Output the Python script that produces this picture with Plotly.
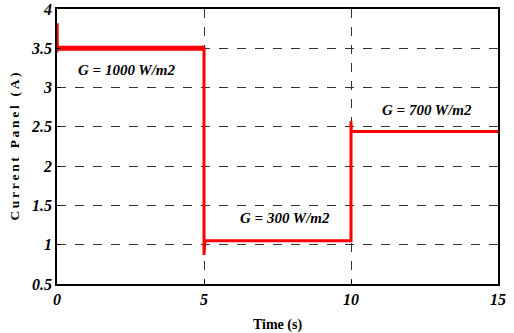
import plotly.graph_objects as go

time_s = [0, 0.005, 0.01, 0.03, 5.0, 5.0, 5.01, 5.03, 10.0, 10.0, 10.01, 10.03, 15.0]
current_a = [3.45, 3.82, 3.50, 3.50, 3.50, 0.87, 1.05, 1.05, 1.05, 2.57, 2.45, 2.44, 2.44]

x_ticks = [0, 5, 10, 15]
y_ticks = [0.5, 1, 1.5, 2, 2.5, 3, 3.5, 4]
y_tick_labels = ["0.5", "1", "1.5", "2", "2.5", "3", "3.5", "4"]

labels = ["G = 1000 W/m2", "G = 300 W/m2", "G = 700 W/m2"]
label_x = [2.38, 7.76, 12.59]
label_y = [3.22, 1.34, 2.72]

fig = go.Figure()
fig.add_trace(go.Scatter(x=time_s, y=current_a, mode="lines",
                         line=dict(color="#ff0000", width=3), showlegend=False))
fig.add_trace(go.Scatter(x=[0.01, 5.0], y=[3.50, 3.50], mode="lines",
                         line=dict(color="#ff0000", width=5), showlegend=False))

tick_font = dict(family="Liberation Serif", size=16, color="black")
for t, x, y in zip(labels, label_x, label_y):
    fig.add_annotation(x=x, y=y, text="<b><i>" + t + "</i></b>", showarrow=False,
                       font=dict(family="Liberation Serif", size=15, color="black"))

ytitle = "\u2009".join("Current Panel (A)")

fig.update_xaxes(range=[0, 15], tickvals=x_ticks,
                 ticktext=["<b><i>%d</i></b>" % v for v in x_ticks],
                 showline=True, linecolor="black", linewidth=1.5, mirror=True,
                 showgrid=True, gridcolor="#333333", griddash="dash", gridwidth=1,
                 ticks="inside", ticklen=4, tickcolor="black",
                 tickfont=tick_font, zeroline=False, automargin=False,
                 title=dict(text="<b>Time (s)</b>", font=dict(family="Liberation Serif", size=14, color="black"), standoff=12))
fig.update_yaxes(range=[0.5, 4], tickvals=y_ticks,
                 ticktext=["<b><i>%s</i></b>" % s for s in y_tick_labels],
                 showline=True, linecolor="black", linewidth=1.5, mirror=True,
                 showgrid=True, gridcolor="#333333", griddash="dash", gridwidth=1,
                 ticks="inside", ticklen=4, tickcolor="black",
                 tickfont=tick_font, zeroline=False, automargin=False,
                 title=dict(text="<b>" + ytitle + "</b>", font=dict(family="Liberation Serif", size=13.5, color="black"), standoff=8))

fig.update_layout(width=514, height=333, margin=dict(l=57, r=16, t=9, b=49),
                  plot_bgcolor="white", paper_bgcolor="white")
fig.write_html("out.html", config={"displayModeBar": False},
               post_script="document.body.style.margin='0px';")
